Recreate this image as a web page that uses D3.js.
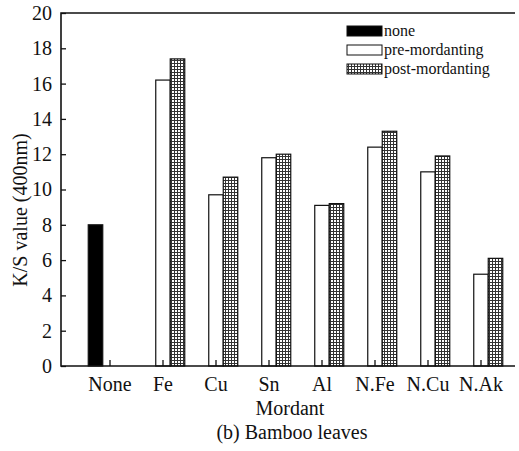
<!DOCTYPE html>
<html><head><meta charset="utf-8">
<script src="https://cdn.jsdelivr.net/npm/d3@7"></script>
<style>body{margin:0;background:#fff;} svg{display:block;} svg text{font-family:'Liberation Serif','Tinos','Times New Roman',Times,'DejaVu Serif',serif !important;fill:#111;}</style>
</head><body>
<svg id="c" width="519" height="451"></svg>
<script>
const categories = ["None","Fe","Cu","Sn","Al","N.Fe","N.Cu","N.Ak"];
const noneValues = [8.0, null, null, null, null, null, null, null];
const preValues  = [null, 16.2, 9.7, 11.8, 9.1, 12.4, 11.0, 5.2];
const postValues = [null, 17.4, 10.7, 12.0, 9.2, 13.3, 11.9, 6.1];
const seriesNames = ["none","pre-mordanting","post-mordanting"];
const yTicks = [0,2,4,6,8,10,12,14,16,18,20];

const svg = d3.select("#c");
const L = 61, R = 515, T = 13, B = 366;
const fs = 20;
const serif = "'Liberation Serif','Tinos','Times New Roman',Times,serif";

const defs = svg.append("defs");
const pat = defs.append("pattern").attr("id","grid").attr("patternUnits","userSpaceOnUse")
  .attr("width",3).attr("height",3);
pat.append("rect").attr("width",3).attr("height",3).attr("fill","#fff");
pat.append("rect").attr("x",0).attr("y",0).attr("width",3).attr("height",1).attr("fill","#333");
pat.append("rect").attr("x",0).attr("y",0).attr("width",1).attr("height",3).attr("fill","#333");

const y = d3.scaleLinear().domain([0,20]).range([B,T]);
const x = d3.scaleBand().domain(categories).range([83.5,507.5]).padding(0);
const sub = d3.scaleBand().domain(seriesNames).range([0,43.5]);

const fills = {"none":"#000","pre-mordanting":"#fff","post-mordanting":"url(#grid)"};
const series = [
  {name:"none", values:noneValues},
  {name:"pre-mordanting", values:preValues},
  {name:"post-mordanting", values:postValues}
];

series.forEach(s => {
  const data = categories.map((c,i)=>({c, v:s.values[i]})).filter(d=>d.v!=null);
  svg.append("g").selectAll("rect").data(data).join("rect")
    .attr("x", d => x(d.c) + x.bandwidth()/2 - 21.75 + sub(s.name))
    .attr("y", d => y(d.v))
    .attr("width", sub.bandwidth())
    .attr("height", d => B - y(d.v))
    .attr("fill", fills[s.name])
    .attr("stroke","#111").attr("stroke-width",1.2);
});

const yAxis = d3.axisLeft(y).tickValues(yTicks).tickSize(-5).tickPadding(9).tickFormat(d3.format("d"));
const gy = svg.append("g").attr("transform",`translate(${L},0)`).call(yAxis).attr("font-family",serif);
gy.select(".domain").remove();
gy.selectAll("line").attr("stroke","#111").attr("stroke-width",1.3);
gy.selectAll("text").attr("font-size",fs).attr("fill","#111");

const xAxis = d3.axisBottom(x).tickSize(-6).tickPadding(11);
const gx = svg.append("g").attr("transform",`translate(0,${B})`).call(xAxis).attr("font-family",serif);
gx.select(".domain").remove();
gx.selectAll("line").attr("stroke","#111").attr("stroke-width",1.3);
gx.selectAll("text").attr("font-size",fs).attr("fill","#111");

svg.append("path").attr("d",`M${R},${T}H${L}V${B}H${R}`).attr("fill","none").attr("stroke","#111").attr("stroke-width",1.6);

svg.append("text").attr("x",290).attr("y",415).attr("text-anchor","middle").attr("font-size",fs).text("Mordant");
svg.append("text").attr("x",292).attr("y",439).attr("text-anchor","middle").attr("font-size",fs).text("(b) Bamboo leaves");
svg.append("text").attr("transform","translate(27,210) rotate(-90)").attr("text-anchor","middle").attr("font-size",fs).text("K/S value (400nm)");

const lg = svg.append("g");
seriesNames.forEach((n,i) => {
  const yy = 26 + i*19;
  lg.append("rect").attr("x",347).attr("y",yy).attr("width",35).attr("height",10)
    .attr("fill",fills[n]).attr("stroke","#111").attr("stroke-width",1);
  lg.append("text").attr("x",384).attr("y",yy+10).attr("font-size",16).text(n);
});
</script>
</body></html>
